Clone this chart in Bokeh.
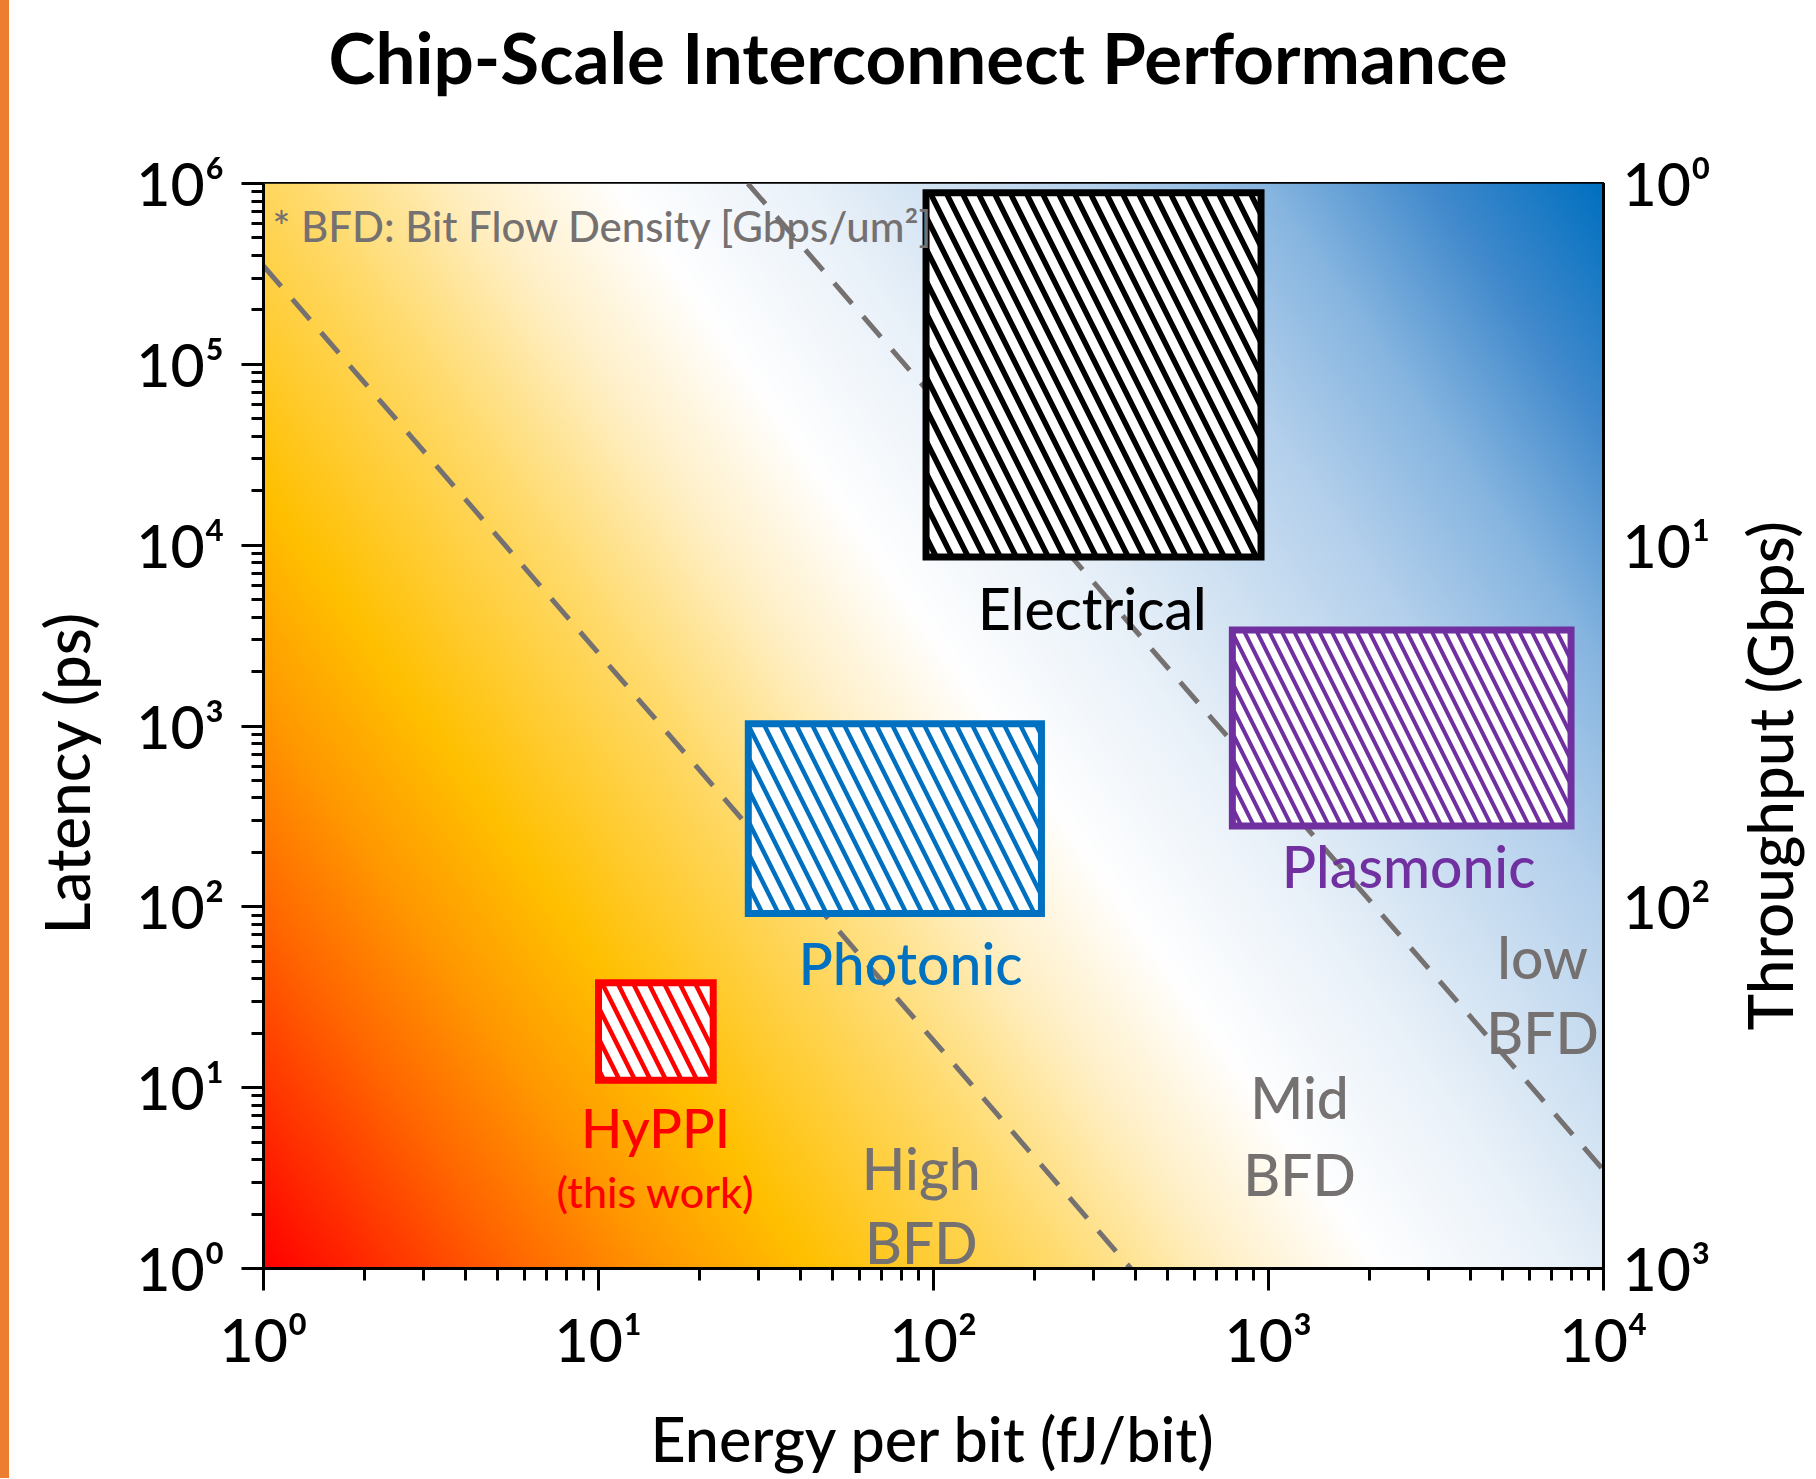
import math
import numpy as np
from bokeh.plotting import figure
from bokeh.models import Range1d, LogScale, LogAxis, FixedTicker, ColumnDataSource, Div, Title
from bokeh.layouts import row
from bokeh.core.properties import value
from bokeh.embed import file_html
from bokeh.resources import INLINE

# ---------------- data ----------------
x_ticks = [1, 10, 100, 1000, 10000]
x_tick_labels = ["10⁰", "10¹", "10²", "10³", "10⁴"]
y_ticks = [1, 10, 100, 1000, 10000, 100000, 1000000]
y_tick_labels = ["10⁰", "10¹", "10²", "10³", "10⁴", "10⁵", "10⁶"]
thr_ticks = [1, 10, 100, 1000]
thr_tick_labels = ["10⁰", "10¹", "10²", "10³"]

tech_names = ["Electrical", "Photonic", "Plasmonic", "HyPPI"]
energy_min = [95, 28, 780, 10]          # fJ/bit
energy_max = [950, 210, 8000, 22]
latency_min = [8600, 92, 280, 11]       # ps
latency_max = [890000, 1030, 3400, 38]
tech_colors = ["#000000", "#0070C0", "#7030A0", "#FF0000"]
hatch_scales = [32, 32, 25, 31]
hatch_weights = [5.5, 4.5, 4.0, 4.5]

# iso-BFD boundary lines
bfd_high_x = [1, 388]
bfd_high_y = [350000, 1]
bfd_low_x = [27.9, 10000]
bfd_low_y = [1000000, 3.5]

label_text = ["Electrical", "Photonic", "Plasmonic", "HyPPI", "(this work)",
              "High", "BFD", "Mid", "BFD", "low", "BFD"]
label_x = [298, 85.4, 2620, 14.8, 14.8, 91.9, 91.9, 1238, 1238, 6580, 6580]
label_y = [4500, 49.0, 168, 6.05, 2.67, 3.6, 1.40, 8.9, 3.35, 53.0, 20.3]
GREY = "#767171"
label_color = ["#000000", "#0070C0", "#7030A0", "#FF0000", "#FF0000",
               GREY, GREY, GREY, GREY, GREY, GREY]
label_size = ["57px", "57px", "57px", "54px", "43px",
              "57px", "57px", "57px", "57px", "57px", "57px"]

note_text = ["* BFD: Bit Flow Density [Gbps/um²]"]
note_x = [1.064]
note_y = [580000]

chart_title = "Chip-Scale Interconnect Performance"
x_title = "Energy per bit (fJ/bit)"
y_title = "Latency (ps)"
y2_title = "Throughput (Gbps)"

# background gradient colour stops (position along diagonal, colour)
grad_pos = [0.0, 0.12, 0.19, 0.26, 0.38, 0.46, 0.53, 0.62, 0.68, 0.76, 0.84, 0.92, 1.0]
grad_col = ["#FF0000", "#FF6600", "#FF9900", "#FFC000", "#FFDB6E", "#FFF0C8", "#FFFFFF",
            "#E9F1F9", "#D2E3F3", "#B4D0EC", "#86B5E0", "#4089CC", "#0070C0"]

FONT = "Lato Medium, Lato"
NBSP = "\u00a0"

# ---------------- main figure ----------------
X0, X1 = x_ticks[0], x_ticks[-1]
Y0, Y1 = y_ticks[0], y_ticks[-1]

p = figure(width=1714, height=1478, x_axis_type="log", y_axis_type="log",
           x_range=Range1d(X0, X1), y_range=Range1d(Y0, Y1),
           output_backend="svg", toolbar_location=None, title=None,
           min_border_left=254, min_border_right=120,
           min_border_top=183, min_border_bottom=210)
p.grid.visible = False
p.background_fill_color = "white"
p.border_fill_color = "white"
p.outline_line_color = "black"
p.outline_line_width = 3
p.outline_line_alpha = 1.0

# spacer between frame and title, then the title itself (outermost)
p.add_layout(Title(text=" ", text_font_size="1px", standoff=82), "above")
p.add_layout(Title(text=chart_title, align="left", offset=65, standoff=0,
                   vertical_align="bottom", text_font="Lato",
                   text_font_style="bold", text_font_size="71px",
                   text_color="black"), "above")

# gradient background
H, W = 543, 670
u = np.linspace(0.0, 1.0, W)
v = np.linspace(0.0, 1.0, H)
U, V = np.meshgrid(u, v)
T = 0.637 * U + 0.363 * V
def hex2rgb(h):
    return [int(h[i:i + 2], 16) for i in (1, 3, 5)]
rgb = np.array([hex2rgb(c) for c in grad_col], dtype=float)
img = np.empty((H, W), dtype=np.uint32)
view = img.view(dtype=np.uint8).reshape((H, W, 4))
for k in range(3):
    view[:, :, k] = np.interp(T, grad_pos, rgb[:, k]).astype(np.uint8)
view[:, :, 3] = 255
p.image_rgba(image=[img], x=X0, y=Y0, dw=X1 - X0, dh=Y1 - Y0)

# dashed iso-BFD lines
for lx, ly in ((bfd_high_x, bfd_high_y), (bfd_low_x, bfd_low_y)):
    p.line(lx, ly, line_color=GREY, line_width=5, line_dash="27 17")

# hatched technology regions
for i in range(len(tech_names)):
    p.quad(left=[energy_min[i]], right=[energy_max[i]],
           bottom=[latency_min[i]], top=[latency_max[i]],
           fill_color="white", line_color=tech_colors[i], line_width=7,
           line_join="miter",
           hatch_pattern="left_diagonal_line", hatch_color=tech_colors[i],
           hatch_scale=hatch_scales[i], hatch_weight=hatch_weights[i])

# labels
src = ColumnDataSource(dict(x=label_x, y=label_y, text=label_text,
                            color=label_color, size=label_size))
p.text(x="x", y="y", text="text", source=src, text_color="color",
       text_font_size="size", text_font=value(FONT),
       text_align="center", text_baseline="alphabetic")
p.text(x=note_x, y=note_y, text=note_text, text_color=GREY,
       text_font_size="42px", text_font=value(FONT),
       text_align="left", text_baseline="alphabetic")

# axes
def minor_for(ticks):
    return [m * t for t in ticks[:-1] for m in range(2, 10)]

def style_axis(ax):
    ax.axis_line_width = 3
    ax.axis_line_color = "black"
    ax.major_tick_line_width = 3
    ax.minor_tick_line_width = 3
    ax.major_tick_line_color = "black"
    ax.minor_tick_line_color = "black"
    ax.major_tick_out = 22
    ax.major_tick_in = 0
    ax.minor_tick_out = 12
    ax.minor_tick_in = 0
    ax.major_label_text_font = FONT
    ax.major_label_text_font_size = "59px"
    ax.major_label_text_color = "black"
    ax.axis_label_text_font = FONT
    ax.axis_label_text_font_size = "62px"
    ax.axis_label_text_font_style = "normal"
    ax.axis_label_text_color = "black"

xa = p.xaxis[0]
style_axis(xa)
xa.ticker = FixedTicker(ticks=x_ticks, minor_ticks=minor_for(x_ticks))
xa.major_label_overrides = dict(zip(x_ticks, x_tick_labels))
xa.axis_label = x_title
xa.axis_label_text_font_size = "61px"
xa.major_label_standoff = 13
xa.axis_label_standoff = 24

ya = p.yaxis[0]
style_axis(ya)
ya.ticker = FixedTicker(ticks=y_ticks, minor_ticks=minor_for(y_ticks))
ya.major_label_overrides = dict(zip(y_ticks, y_tick_labels))
ya.major_label_standoff = 17
# trailing no-break spaces nudge the title below the axis centre, as in the original
ya.axis_label = y_title + NBSP * 6
ya.axis_label_standoff = 30

p.extra_y_ranges = {"thr": Range1d(thr_ticks[-1], thr_ticks[0])}
p.extra_y_scales = {"thr": LogScale()}
ra = LogAxis(y_range_name="thr")
style_axis(ra)
ra.ticker = FixedTicker(ticks=thr_ticks)
ra.major_label_overrides = dict(zip(thr_ticks, thr_tick_labels))
ra.major_tick_out = 0
ra.minor_tick_out = 0
ra.major_tick_line_color = None
ra.minor_tick_line_color = None
ra.major_label_standoff = 19
p.add_layout(ra, "right")

# ---------------- narrow side figure carrying the right-hand axis title ----------------
p2 = figure(width=92, height=1478, output_backend="svg", toolbar_location=None,
            title=None, x_axis_location=None, y_axis_location=None,
            x_range=Range1d(0, 1), y_range=Range1d(0, 1),
            min_border_left=85, min_border_right=0,
            min_border_top=0, min_border_bottom=0)
p2.grid.visible = False
p2.outline_line_color = None
p2.background_fill_color = "white"
p2.border_fill_color = "white"
p2.add_layout(Title(text=y2_title, align="left", offset=238, standoff=6,
                    vertical_align="bottom", text_font=FONT,
                    text_font_style="normal", text_font_size="62px",
                    text_color="black"), "left")

strip = Div(width=9, height=1478, styles={"background-color": "#ED7D31"}, margin=0)
layout = row(strip, p, p2, spacing=0)

open("out.html", "w").write(file_html(layout, INLINE))
